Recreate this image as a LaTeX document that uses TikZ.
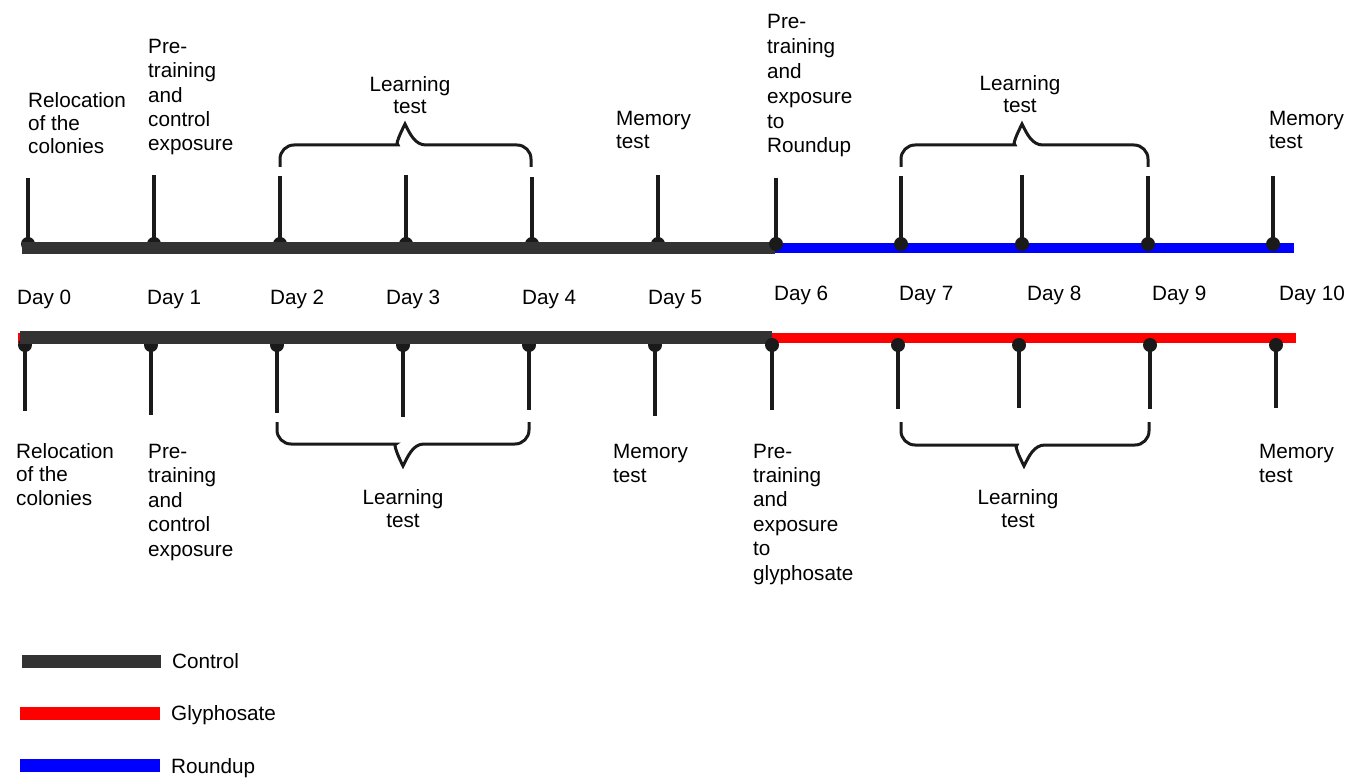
\documentclass[tikz,border=0pt]{standalone}
\usepackage{fontspec}
\setmainfont{Liberation Sans}
\definecolor{barg}{HTML}{333333}
\definecolor{tickc}{HTML}{1A1A1A}
\definecolor{rblue}{HTML}{0000FF}
\definecolor{rred}{HTML}{FF0000}
\begin{document}
\begin{tikzpicture}[x=1pt,y=-1pt,
  lbl/.style={inner sep=0pt, anchor=base west, align=left, font=\fontsize{20.7}{24.4}\selectfont},
  lbltwo/.style={inner sep=0pt, anchor=base west, align=left, font=\fontsize{20.7}{23.4}\selectfont},
  lblc/.style={inner sep=0pt, anchor=base, align=center, font=\fontsize{20.7}{22.5}\selectfont},
  ticklin/.style={draw=tickc, line width=3.5pt},
  dotn/.style={circle, fill=tickc, inner sep=0pt, minimum size=14pt},
  bracel/.style={draw=tickc, line width=3pt},
  barctl/.style={draw=barg, line width=12.5pt},
]
\useasboundingbox (0,0) rectangle (1349,778);

% full coloured bars
\coordinate (tbS) at (22,248);
\coordinate (tbM) at (775,248);
\coordinate (tbE) at (1294,248);
\coordinate (bbS) at (18,338);
\coordinate (bbG) at (20,337.5);
\coordinate (bbM) at (772,337.5);
\coordinate (bbE) at (1296,338);
\draw[rblue, line width=9.4pt] (tbS) -- (tbE);
\draw[rred, line width=10pt] (bbS) -- (bbE);

% ticks days 0-5 (behind control bar)
\foreach \n/\x/\y in {0/28/178, 1/154/175, 2/280/176, 3/406/175, 4/532/177, 5/658/175} {
  \node[dotn] (td\n) at (\x,244) {};
  \coordinate (tt\n) at (\x,\y);
  \draw[ticklin] (td\n.center) -- (tt\n);
}
\foreach \n/\x/\y in {0/25/411, 1/151/415, 2/277/413, 3/403/417, 4/529/410, 5/655/416} {
  \node[dotn] (bd\n) at (\x,345) {};
  \coordinate (bt\n) at (\x,\y);
  \draw[ticklin] (bd\n.center) -- (bt\n);
}

% control bars
\draw[barctl] (tbS) -- (tbM);
\draw[barctl, line width=13pt] (bbG) -- (bbM);

% ticks days 6-10
\foreach \n/\x/\y in {6/776/178, 7/901/176, 8/1022/175, 9/1148/176, 10/1273/176} {
  \coordinate (tt\n) at (\x,\y);
  \draw[ticklin] (\x,244) -- (tt\n);
  \node[dotn] (td\n) at (\x,244) {};
}
\foreach \n/\x/\y in {6/772/410, 7/898/409, 8/1019/408, 9/1150/409, 10/1276/408} {
  \coordinate (bt\n) at (\x,\y);
  \draw[ticklin] (\x,345) -- (bt\n);
  \node[dotn] (bd\n) at (\x,345) {};
}

% braces
\draw[bracel] (280,167) [rounded corners=14pt] -- (280,145) -- (384,145) [sharp corners]
  .. controls (395,145) and (400,134) .. (405,124)
  .. controls (410,134) and (415,145) .. (426,145) [rounded corners=14pt] -- (531,145) -- (531,167);
\draw[bracel] (901,167) [rounded corners=14pt] -- (901,145) -- (1001,145) [sharp corners]
  .. controls (1012,145) and (1017,134) .. (1022,124)
  .. controls (1027,134) and (1032,145) .. (1043,145) [rounded corners=14pt] -- (1148,145) -- (1148,167);
\draw[bracel] (277,422) [rounded corners=14pt] -- (277,444) -- (382,444) [sharp corners]
  .. controls (393,444) and (398,456) .. (403,466)
  .. controls (408,456) and (413,444) .. (424,444) [rounded corners=14pt] -- (529,444) -- (529,422);
\draw[bracel] (901,422) [rounded corners=14pt] -- (901,445) -- (1003,445) [sharp corners]
  .. controls (1014,445) and (1019,456) .. (1024,466)
  .. controls (1029,456) and (1034,445) .. (1045,445) [rounded corners=14pt] -- (1149,445) -- (1149,422);

% day labels
\foreach \n/\x/\y in {0/17/304, 1/147/304, 2/270/304, 3/386/304, 4/522/304, 5/648/304,
                      6/774/300, 7/899/300, 8/1027/300, 9/1152/300, 10/1279/300} {
  \node[lbl] (day\n) at (\x,\y) {Day \n};
}

% top labels (anchor = baseline of last line)
\node[lbltwo] (tl0) at (28,154) {Relocation\\of the\\colonies};
\node[lbl] (tl1) at (148,151) {Pre-\\training\\and\\control\\exposure};
\node[lblc] (tl2) at (410,114) {Learning\\test};
\node[lbltwo] (tl5) at (616,149) {Memory\\test};
\node[lbl, font=\fontsize{20.7}{24.8}\selectfont] (tl6) at (767,153) {Pre-\\training\\and\\exposure\\to\\Roundup};
\node[lblc] (tl7) at (1020,113) {Learning\\test};
\node[lbltwo] (tl10) at (1269,149) {Memory\\test};

% bottom labels
\node[lbltwo] (bl0) at (16,505) {Relocation\\of the\\colonies};
\node[lbl] (bl1) at (148,556) {Pre-\\training\\and\\control\\exposure};
\node[lblc] (bl2) at (403,527) {Learning\\test};
\node[lbltwo] (bl5) at (613,482) {Memory\\test};
\node[lbl] (bl6) at (753,580) {Pre-\\training\\and\\exposure\\to\\glyphosate};
\node[lblc] (bl7) at (1018,527) {Learning\\test};
\node[lbltwo] (bl10) at (1259,482) {Memory\\test};

% legend
\coordinate (lc1) at (22,661.5); \coordinate (lc2) at (161,661.5);
\coordinate (lg1) at (20,713.5); \coordinate (lg2) at (160,713.5);
\coordinate (lr1) at (20,765);   \coordinate (lr2) at (160,765);
\draw[barg, line width=13pt] (lc1) -- (lc2);
\draw[rred, line width=13pt] (lg1) -- (lg2);
\draw[rblue, line width=13pt] (lr1) -- (lr2);
\node[lbl] (legc) at (172,668) {Control};
\node[lbl] (legg) at (171,720) {Glyphosate};
\node[lbl] (legr) at (171,773) {Roundup};
\end{tikzpicture}
\end{document}
